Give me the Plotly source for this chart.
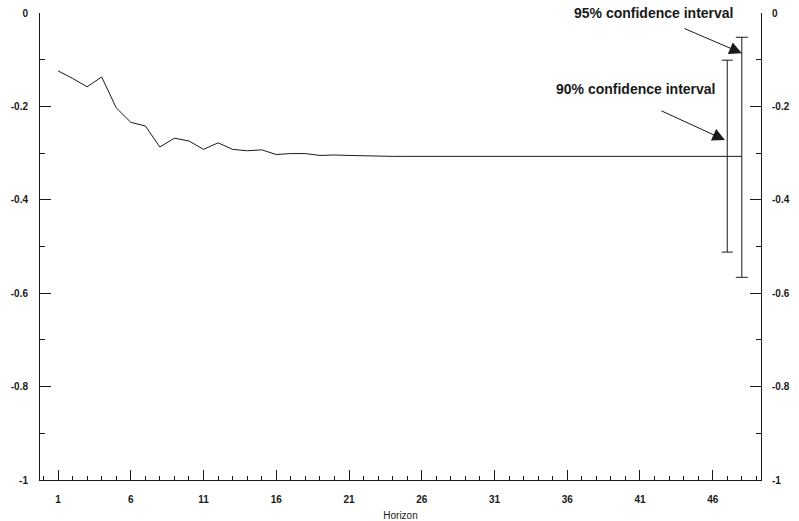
import plotly.graph_objects as go

# Impulse response by forecast horizon
horizon = list(range(1, 49))
response = [
    -0.124, -0.140, -0.158, -0.137, -0.203, -0.234, -0.242, -0.287, -0.268, -0.274,
    -0.292, -0.278, -0.292, -0.295, -0.293, -0.303, -0.301, -0.301, -0.305, -0.304,
    -0.305, -0.306, -0.306, -0.307, -0.307, -0.307, -0.307, -0.307, -0.307, -0.307,
    -0.307, -0.307, -0.307, -0.307, -0.307, -0.307, -0.307, -0.307, -0.307, -0.307,
    -0.307, -0.307, -0.307, -0.307, -0.307, -0.307, -0.307, -0.307,
]

# Confidence bands drawn at the end of the horizon
ci_horizon = [47, 48]
ci_names = ["90% confidence interval", "95% confidence interval"]
ci_upper = [-0.101, -0.052]
ci_lower = [-0.512, -0.566]

y_tickvals = [-1, -0.8, -0.6, -0.4, -0.2, 0]
y_ticktext = ["-1", "-0.8", "-0.6", "-0.4", "-0.2", "0"]

INK = "#1a1a1a"
FONT = "Liberation Sans"

fig = go.Figure()

fig.add_trace(go.Scatter(
    x=horizon, y=response, mode="lines",
    line=dict(color=INK, width=1), showlegend=False, hoverinfo="skip",
))

mid = {h: v for h, v in zip(horizon, response)}
for h, up, lo, cap in zip(ci_horizon, ci_upper, ci_lower, [5.5, 6]):
    m = mid[h]
    fig.add_trace(go.Scatter(
        x=[h], y=[m], mode="markers", marker=dict(size=1, opacity=0),
        error_y=dict(type="data", symmetric=False, array=[up - m], arrayminus=[m - lo],
                     color=INK, thickness=1, width=cap),
        showlegend=False, hoverinfo="skip",
    ))

# invisible trace so the right-hand axis is drawn
fig.add_trace(go.Scatter(x=[1], y=[0], yaxis="y2", mode="markers",
                         marker=dict(opacity=0), showlegend=False, hoverinfo="skip"))

yax = dict(
    range=[-1, 0], tickmode="array", tickvals=y_tickvals, ticktext=y_ticktext,
    ticks="inside", ticklen=11, tickwidth=1, tickcolor=INK,
    minor=dict(tickmode="linear", tick0=0, dtick=0.1, ticks="inside", ticklen=5,
               tickcolor=INK, showgrid=False),
    showline=True, linecolor=INK, linewidth=1, showgrid=False, zeroline=False,
    tickfont=dict(family=FONT, size=10, color=INK, weight="bold"),
    automargin=False,
)

fig.update_layout(
    width=799, height=521,
    margin=dict(l=40, r=38, t=13, b=41),
    paper_bgcolor="white", plot_bgcolor="white",
    xaxis=dict(
        range=[-0.24, 49.32], tickmode="linear", tick0=1, dtick=5,
        ticks="inside", ticklen=10, tickwidth=1, tickcolor=INK,
        minor=dict(tickmode="linear", tick0=1, dtick=1, ticks="inside", ticklen=4,
                   tickcolor=INK, showgrid=False),
        showline=True, linecolor=INK, linewidth=1, showgrid=False, zeroline=False,
        tickfont=dict(family=FONT, size=10, color=INK, weight="bold"),
        ticklabelstandoff=10, automargin=False,
        title=dict(text="Horizon", font=dict(family=FONT, size=10, color=INK), standoff=7),
    ),
    yaxis=dict(**yax, side="left", ticklabelstandoff=9),
    yaxis2=dict(**yax, side="right", overlaying="y", ticklabelstandoff=8),
    annotations=[
        dict(x=41.96, y=0.0, xref="x", yref="y", text=ci_names[1], showarrow=False,
             font=dict(family=FONT, size=14, color=INK, weight="bold"),
             xanchor="center", yanchor="middle"),
        dict(x=40.72, y=-0.163, xref="x", yref="y", text=ci_names[0], showarrow=False,
             font=dict(family=FONT, size=14, color=INK, weight="bold"),
             xanchor="center", yanchor="middle"),
        dict(x=48.0, y=-0.086, ax=43.96, ay=-0.032, xref="x", yref="y",
             axref="x", ayref="y", text="", showarrow=True,
             arrowhead=2, arrowsize=2.5, arrowwidth=1, arrowcolor=INK),
        dict(x=46.84, y=-0.272, ax=42.37, ay=-0.208, xref="x", yref="y",
             axref="x", ayref="y", text="", showarrow=True,
             arrowhead=2, arrowsize=2.5, arrowwidth=1, arrowcolor=INK),
    ],
)

fig.write_html("out.html")
